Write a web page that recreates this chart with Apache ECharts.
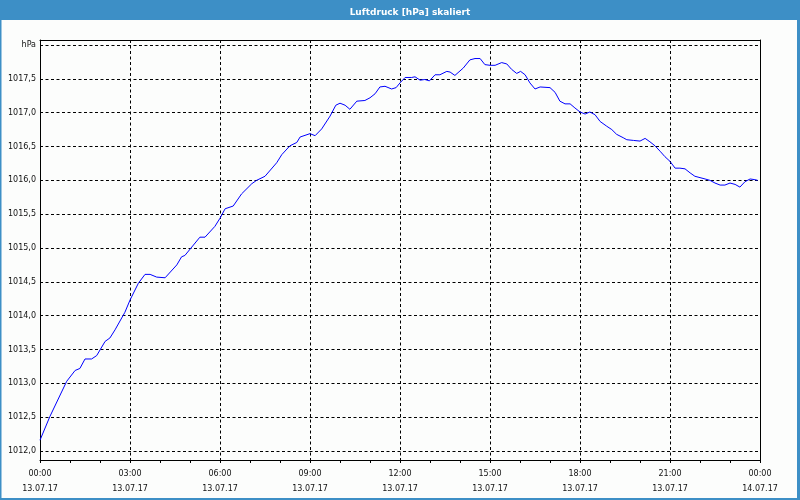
<!DOCTYPE html>
<html><head><meta charset="utf-8">
<script src="https://cdn.jsdelivr.net/npm/echarts@6/dist/echarts.min.js"></script>
<style>html,body{margin:0;padding:0;background:#fcfdfc}#c{width:800px;height:500px}</style>
</head><body><div id="c"></div>
<script>
const chartTitle = 'Luftdruck [hPa] skaliert';
const hours = [0.0,0.33,0.89,1.17,1.33,1.5,1.72,1.89,2.17,2.33,2.5,2.83,3.0,3.28,3.5,3.67,3.89,4.17,4.56,4.72,4.83,5.33,5.5,5.83,6.0,6.17,6.44,6.72,7.06,7.22,7.5,7.89,8.06,8.33,8.56,8.67,9.0,9.17,9.39,9.67,9.86,10.0,10.17,10.33,10.56,10.83,11.0,11.17,11.33,11.5,11.72,11.87,12.0,12.17,12.39,12.5,12.67,12.83,12.98,13.17,13.33,13.56,13.67,13.83,14.11,14.33,14.5,14.67,14.83,15.0,15.17,15.39,15.56,15.72,15.89,16.02,16.17,16.33,16.5,16.67,17.0,17.17,17.33,17.5,17.67,17.83,18.0,18.17,18.33,18.5,18.67,18.89,19.06,19.22,19.44,19.56,19.78,20.0,20.17,20.33,20.5,20.67,20.83,21.0,21.17,21.33,21.5,21.67,21.83,22.0,22.17,22.33,22.5,22.67,22.83,23.0,23.17,23.33,23.5,23.67,23.83,23.92];
const pressure = [1012.16,1012.51,1013.03,1013.19,1013.22,1013.36,1013.36,1013.41,1013.62,1013.67,1013.79,1014.05,1014.23,1014.48,1014.61,1014.61,1014.57,1014.56,1014.75,1014.87,1014.89,1015.16,1015.16,1015.32,1015.44,1015.58,1015.62,1015.80,1015.95,1016.00,1016.06,1016.26,1016.38,1016.51,1016.56,1016.64,1016.69,1016.66,1016.76,1016.95,1017.11,1017.14,1017.11,1017.05,1017.17,1017.18,1017.22,1017.28,1017.38,1017.39,1017.35,1017.37,1017.44,1017.52,1017.52,1017.53,1017.48,1017.49,1017.47,1017.56,1017.56,1017.61,1017.60,1017.55,1017.66,1017.78,1017.80,1017.80,1017.71,1017.70,1017.70,1017.74,1017.72,1017.64,1017.58,1017.61,1017.56,1017.44,1017.35,1017.38,1017.37,1017.30,1017.17,1017.13,1017.13,1017.07,1017.01,1016.98,1017.01,1016.97,1016.87,1016.80,1016.75,1016.68,1016.63,1016.60,1016.59,1016.58,1016.62,1016.57,1016.51,1016.43,1016.35,1016.28,1016.18,1016.18,1016.17,1016.11,1016.06,1016.04,1016.02,1016.00,1015.96,1015.93,1015.93,1015.96,1015.94,1015.90,1015.98,1016.02,1016.01,1016.00];
const timeLabels = ['00:00','03:00','06:00','09:00','12:00','15:00','18:00','21:00','00:00'];
const dateLabels = ['13.07.17','13.07.17','13.07.17','13.07.17','13.07.17','13.07.17','13.07.17','13.07.17','14.07.17'];
const yUnitLabel = 'hPa';

const FONT = 'DejaVu Sans';
const dash = {color:'#000', width:1, type:[3,2.5]};
const solid = {color:'#000', width:1};
const chart = echarts.init(document.getElementById('c'), null, {renderer:'canvas'});
chart.setOption({
  animation:false,
  backgroundColor:'#fcfdfc',
  title:{text:chartTitle, left:405, top:3, textAlign:'center',
    textStyle:{color:'#ffffff', fontFamily:FONT, fontWeight:'bold', fontSize:9}},
  graphic:[
    {type:'rect', shape:{x:0,y:0,width:800,height:20}, style:{fill:'#3d8fc6'}, silent:true},
    {type:'rect', shape:{x:0,y:20,width:1.5,height:480}, style:{fill:'#3d8fc6'}, silent:true},
    {type:'rect', shape:{x:797,y:20,width:3,height:480}, style:{fill:'#3d8fc6'}, silent:true},
    {type:'rect', shape:{x:0,y:498,width:800,height:2}, style:{fill:'#3d8fc6'}, silent:true}
  ],
  grid:[
    {left:40, top:40, width:720, height:420, containLabel:false},
    {left:40, top:45, width:720, height:406, containLabel:false}
  ],
  xAxis:[
    {gridIndex:0, type:'value', min:0, max:24, interval:3, position:'bottom',
      axisLine:{show:true, onZero:false, lineStyle:solid},
      axisTick:{show:true, length:3, lineStyle:solid},
      minorTick:{show:true, splitNumber:3, length:3, lineStyle:solid},
      minorSplitLine:{show:false},
      axisLabel:{formatter:(v)=>{const i=Math.round(v/3);return timeLabels[i]+'\n'+dateLabels[i];},
        fontSize:8, fontFamily:FONT, color:'#111', lineHeight:15, margin:6, showMinLabel:true, showMaxLabel:true},
      splitLine:{show:true, lineStyle:dash}},
    {gridIndex:0, type:'value', min:0, max:24, position:'top',
      axisLine:{show:true, onZero:false, lineStyle:solid},
      axisTick:{show:false}, axisLabel:{show:false}, splitLine:{show:false}},
    {gridIndex:1, type:'value', min:0, max:24, show:false}
  ],
  yAxis:[
    {gridIndex:0, type:'value', min:0, max:1, position:'left',
      axisLine:{show:true, onZero:false, lineStyle:solid},
      axisTick:{show:false}, axisLabel:{show:false}, splitLine:{show:false}},
    {gridIndex:0, type:'value', min:0, max:1, position:'right',
      axisLine:{show:true, onZero:false, lineStyle:solid},
      axisTick:{show:false}, axisLabel:{show:false}, splitLine:{show:false}},
    {gridIndex:1, type:'value', min:1012, max:1018, interval:0.5, position:'left',
      axisLine:{show:false}, axisTick:{show:false},
      axisLabel:{formatter:(v)=> v>=1018 ? yUnitLabel : v.toFixed(1).replace('.',','),
        fontSize:8, fontFamily:FONT, color:'#111', margin:4},
      splitLine:{show:true, lineStyle:dash}}
  ],
  series:[{
    type:'line', xAxisIndex:2, yAxisIndex:2,
    data:hours.map((h,i)=>[h,pressure[i]]),
    showSymbol:false, symbol:'none',
    lineStyle:{color:'#0000ff', width:1},
    itemStyle:{color:'#0000ff'}
  }]
});
</script>
</body></html>
